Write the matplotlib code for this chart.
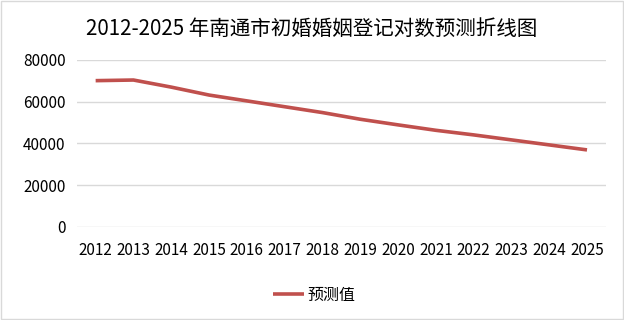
import matplotlib
matplotlib.use('Agg')
import matplotlib.pyplot as plt
from matplotlib.patches import Rectangle

plt.rcParams['font.family'] = ['Noto Sans CJK SC', 'DejaVu Sans']

# 数据
years = [str(y) for y in range(2012, 2026)]
forecast = [70100, 70400, 67000, 63200, 60400, 57600, 54800,
            51600, 48900, 46300, 44100, 41700, 39300, 36900]
y_ticks = [0, 20000, 40000, 60000, 80000]

fig = plt.figure(figsize=(6.24, 3.2), dpi=100)
ax = fig.add_axes([0.123, 0.291, 0.848, 0.5215])

x = list(range(len(years)))
ax.plot(x, forecast, color='#c0504d', linewidth=2.6, label='预测值',
        solid_capstyle='butt')

ax.set_xlim(-0.5, len(years) - 0.5)
ax.set_ylim(0, 80000)
ax.set_yticks(y_ticks)
ax.set_yticklabels([str(v) for v in y_ticks])
ax.set_xticks(x)
ax.set_xticklabels(years)
ax.yaxis.grid(True, color='#d9d9d9', linewidth=1)
ax.set_axisbelow(True)
for s in ax.spines.values():
    s.set_visible(False)
ax.tick_params(axis='both', length=0, labelsize=11, colors='#000000')
ax.tick_params(axis='x', pad=11)
ax.tick_params(axis='y', pad=8)

fig.suptitle('2012-2025 年南通市初婚婚姻登记对数预测折线图', fontsize=14.8,
             x=0.5, y=0.945, color='#000000')

fig.legend(loc='center', bbox_to_anchor=(0.504, 0.077), frameon=False,
           fontsize=11.5, handlelength=1.9, handletextpad=0.25)

# 外框
fig.patches.append(Rectangle((0.002, 0.003), 0.996, 0.994, transform=fig.transFigure,
                             fill=False, edgecolor='#d9d9d9', linewidth=1))

fig.savefig('out.png', dpi=100)
plt.close(fig)
